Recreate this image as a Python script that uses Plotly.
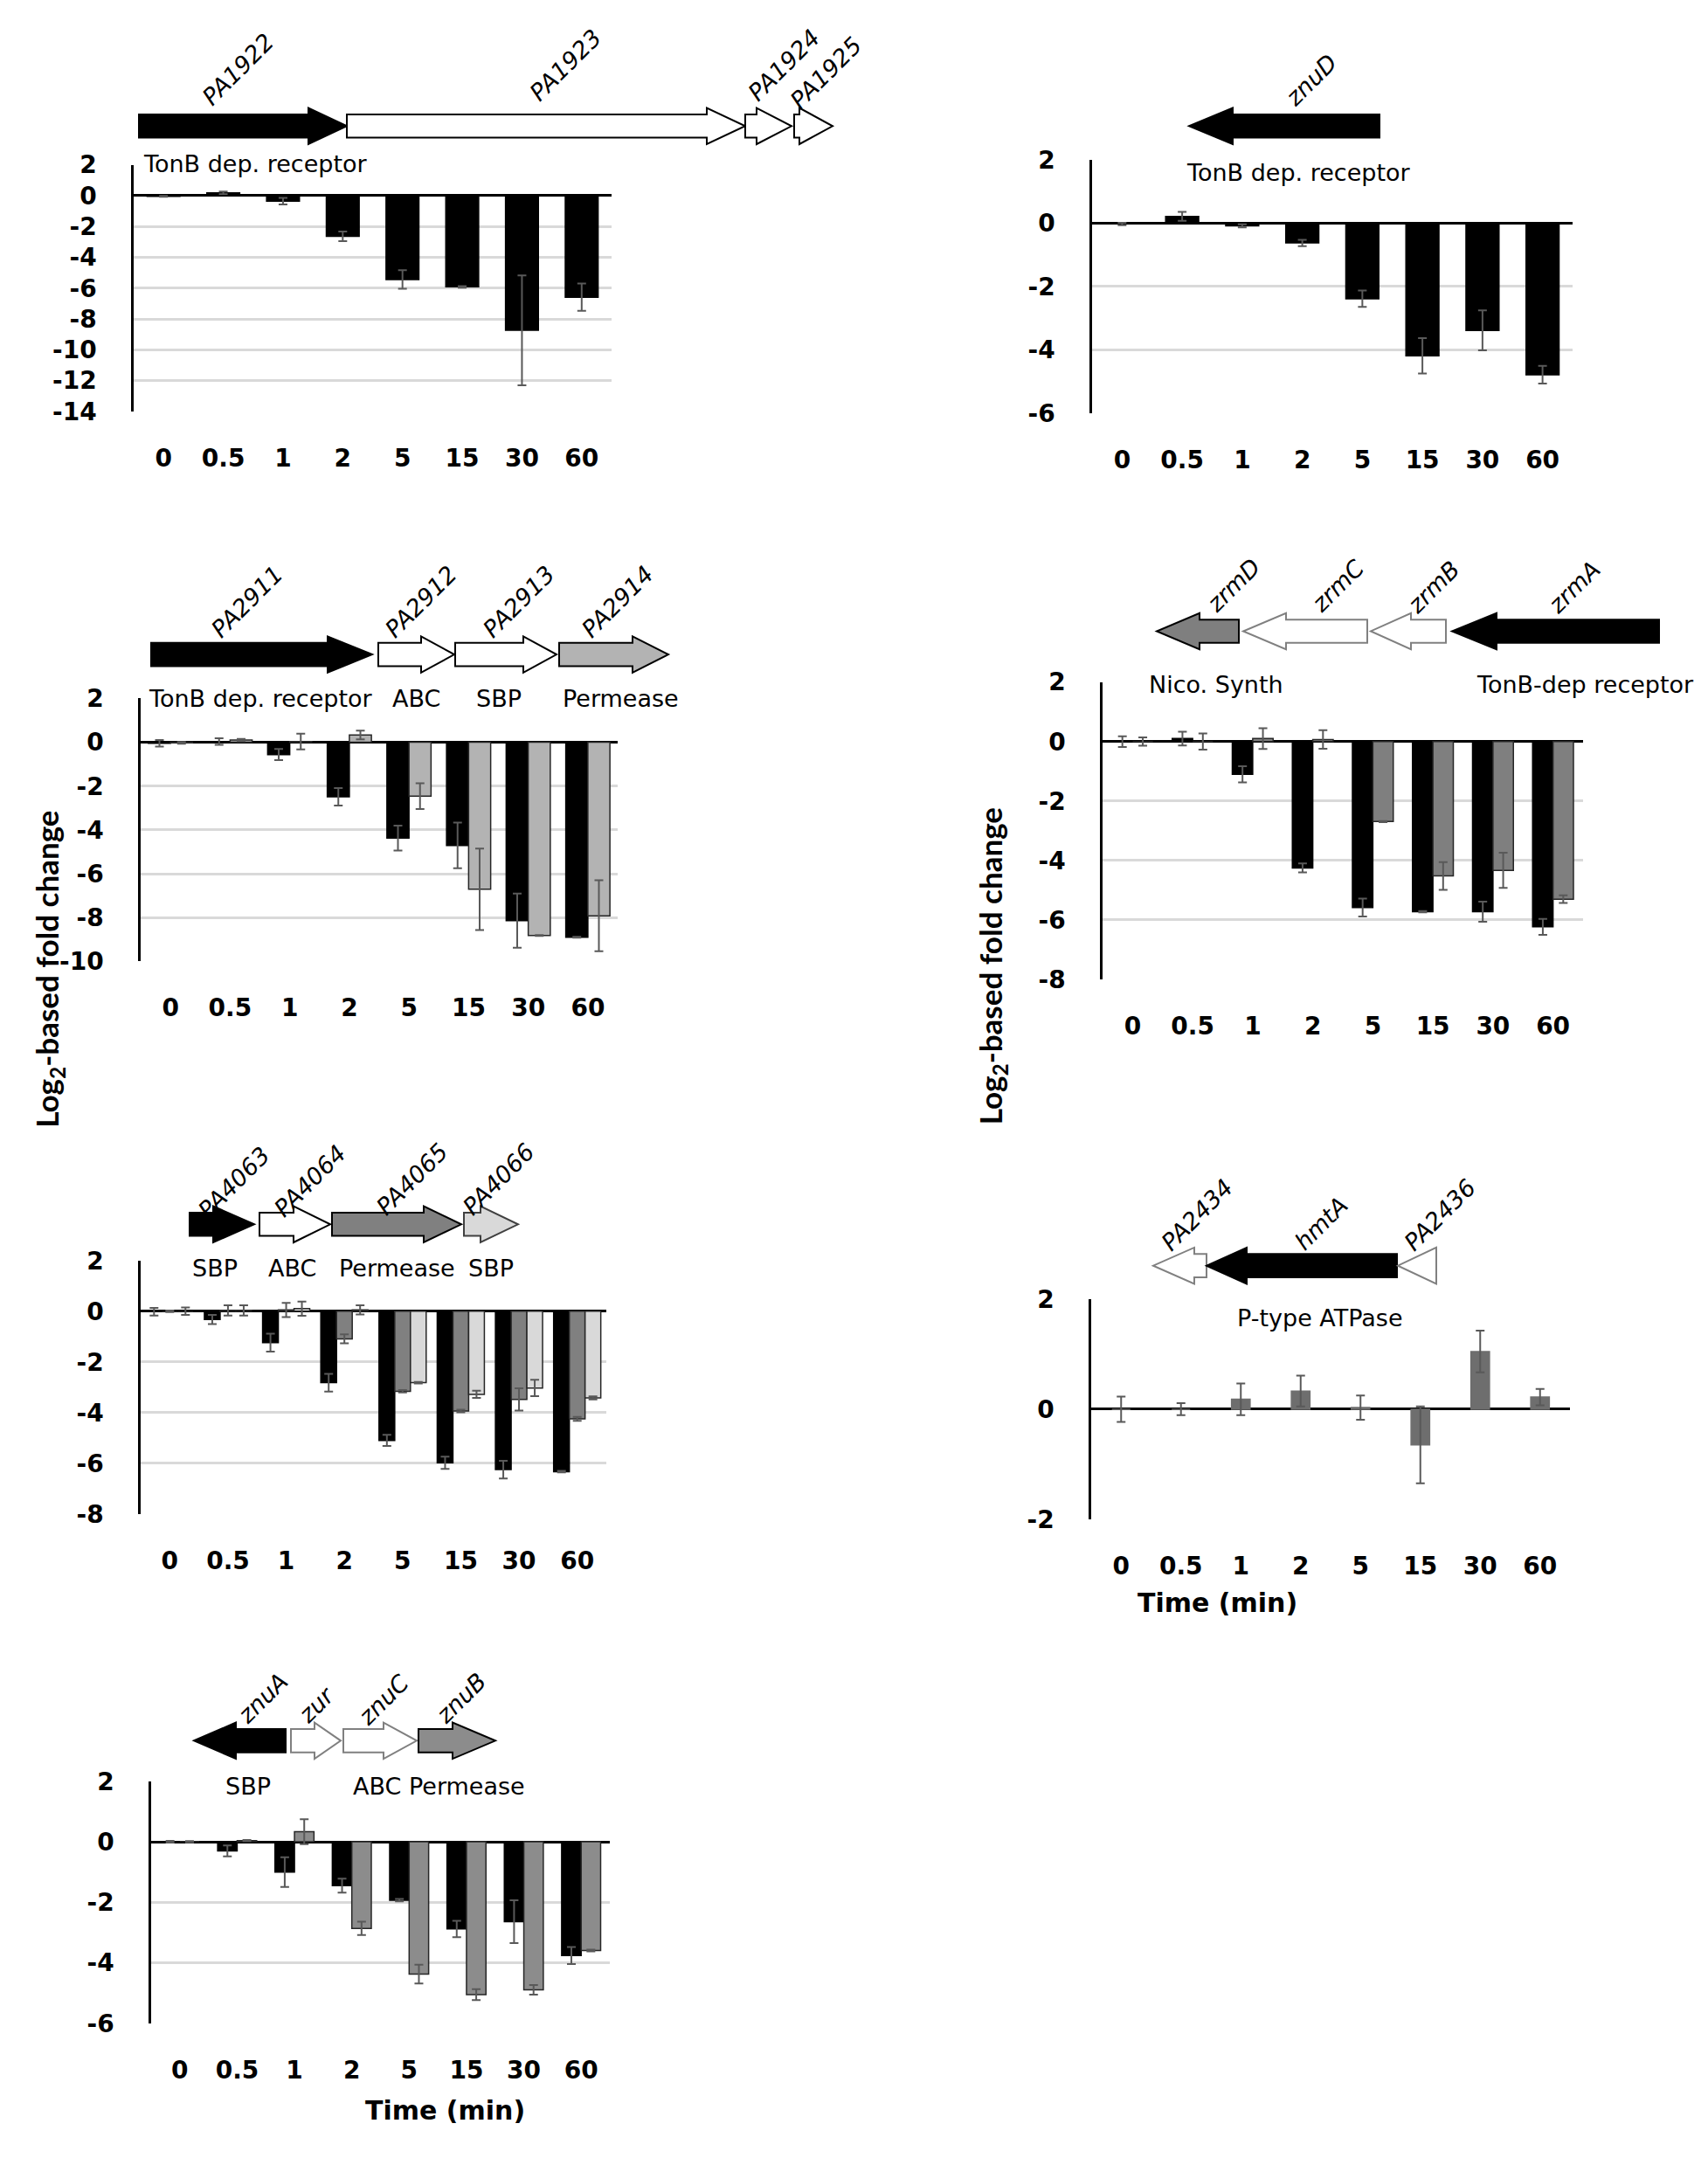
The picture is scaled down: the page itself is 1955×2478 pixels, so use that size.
import plotly.graph_objects as go

W, H = 1955, 2478

TIMES = ["0", "0.5", "1", "2", "5", "15", "30", "60"]

# PA1922 operon (TonB dep. receptor)
PA1922 = [-0.05, 0.18, -0.36, -2.64, -5.44, -5.92, -8.74, -6.59]
PA1922_ERR = [0.03, 0.08, 0.21, 0.31, 0.6, 0.05, 3.57, 0.89]

# znuD
ZNUD = [-0.03, 0.21, -0.09, -0.63, -2.39, -4.19, -3.39, -4.79]
ZNUD_ERR = [0.04, 0.14, 0.05, 0.1, 0.26, 0.56, 0.63, 0.28]

# PA2911-PA2914
PA2911 = [-0.05, 0.03, -0.56, -2.49, -4.37, -4.71, -8.14, -8.9]
PA2911_ERR = [0.15, 0.15, 0.25, 0.4, 0.57, 1.04, 1.24, 0.02]
PA2914 = [-0.03, 0.1, 0.03, 0.33, -2.46, -6.71, -8.82, -7.92]
PA2914_ERR = [0.04, 0.05, 0.36, 0.2, 0.59, 1.86, 0.02, 1.62]

# zrmA-zrmD
ZRMA = [0.0, 0.1, -1.1, -4.25, -5.58, -5.72, -5.72, -6.23]
ZRMA_ERR = [0.18, 0.23, 0.27, 0.15, 0.3, 0.02, 0.34, 0.27]
ZRMD = [0.0, 0.0, 0.1, 0.07, -2.69, -4.52, -4.33, -5.3]
ZRMD_ERR = [0.14, 0.27, 0.35, 0.31, 0.02, 0.47, 0.59, 0.13]

# PA4063-PA4066
PA4063 = [-0.02, -0.33, -1.24, -2.82, -5.1, -5.98, -6.25, -6.33]
PA4063_ERR = [0.15, 0.18, 0.35, 0.35, 0.22, 0.24, 0.35, 0.03]
PA4065 = [0.0, 0.03, 0.05, -1.09, -3.16, -3.94, -3.48, -4.25]
PA4065_ERR = [0.03, 0.2, 0.28, 0.18, 0.05, 0.05, 0.44, 0.08]
PA4066 = [0.0, 0.03, 0.1, 0.05, -2.82, -3.28, -3.03, -3.42]
PA4066_ERR = [0.15, 0.2, 0.28, 0.18, 0.03, 0.14, 0.32, 0.06]

# hmtA
HMTA = [0.0, 0.0, 0.18, 0.33, 0.03, -0.65, 1.05, 0.22]
HMTA_ERR = [0.23, 0.11, 0.29, 0.28, 0.22, 0.7, 0.38, 0.15]

# znuA / znuB
ZNUA = [0.0, -0.3, -1.0, -1.45, -1.93, -2.88, -2.64, -3.76]
ZNUA_ERR = [0.03, 0.18, 0.49, 0.23, 0.04, 0.27, 0.71, 0.28]
ZNUB = [0.0, 0.04, 0.33, -2.86, -4.37, -5.05, -4.89, -3.59]
ZNUB_ERR = [0.02, 0.02, 0.41, 0.22, 0.31, 0.18, 0.16, 0.03]


def px(x):
    return x / W


def py(y):
    return 1 - y / H


FONT = "DejaVu Sans"
TITLE_FONT = "Lato"
BLACK = "#000000"
ERRC = "#595959"

# panel boxes in page pixels: left, right, top (y=ymax), bottom (y=ymin)
panels = [
    dict(box=(153, 700, 175, 461), yr=(-14, 2),
         series=[(PA1922, PA1922_ERR, BLACK, BLACK, 0.55, -0.275)]),
    dict(box=(1250, 1800, 169, 463), yr=(-6, 2),
         series=[(ZNUD, ZNUD_ERR, BLACK, BLACK, 0.55, -0.275)]),
    dict(box=(161, 707, 794, 1099), yr=(-10, 2),
         series=[(PA2911, PA2911_ERR, BLACK, BLACK, 0.37, -0.37),
                 (PA2914, PA2914_ERR, "#b3b3b3", "#262626", 0.37, 0.0)]),
    dict(box=(1262, 1812, 775, 1120), yr=(-8, 2),
         series=[(ZRMA, ZRMA_ERR, BLACK, BLACK, 0.34, -0.34),
                 (ZRMD, ZRMD_ERR, "#7f7f7f", "#262626", 0.34, 0.0)]),
    dict(box=(161, 694, 1446, 1740), yr=(-8, 2),
         series=[(PA4063, PA4063_ERR, BLACK, BLACK, 0.27, -0.405),
                 (PA4065, PA4065_ERR, "#808080", "#262626", 0.27, -0.135),
                 (PA4066, PA4066_ERR, "#d9d9d9", "#262626", 0.27, 0.135)]),
    dict(box=(1249, 1797, 1491, 1746), yr=(-2, 2),
         series=[(HMTA, HMTA_ERR, "#6e6e6e", "#6e6e6e", 0.31, -0.155)]),
    dict(box=(173, 698, 2050, 2331), yr=(-6, 2),
         series=[(ZNUA, ZNUA_ERR, BLACK, BLACK, 0.34, -0.34),
                 (ZNUB, ZNUB_ERR, "#8c8c8c", "#262626", 0.34, 0.0)]),
]

fig = go.Figure()

for i, p in enumerate(panels, start=1):
    sfx = "" if i == 1 else str(i)
    for vals, err, fill, line, w, off in p["series"]:
        fig.add_trace(go.Bar(
            x=TIMES, y=vals,
            xaxis="x" + sfx, yaxis="y" + sfx,
            width=w, offset=off,
            marker=dict(color=fill, line=dict(color=line, width=1.5)),
            error_y=dict(type="data", array=err, visible=True,
                         color=ERRC, thickness=2, width=5),
        ))
    l, r, t, b = p["box"]
    lo, hi = p["yr"]
    ticks = list(range(lo, hi + 1, 2))
    fig.layout["xaxis" + sfx] = dict(
        domain=[px(l), px(r)], anchor="y" + sfx, type="category",
        showgrid=False, showline=False, zeroline=False, ticks="",
        ticklabelstandoff=34,
        tickfont=dict(family=FONT, size=28, color="black", weight="bold"),
    )
    fig.layout["yaxis" + sfx] = dict(
        domain=[py(b), py(t)], anchor="x" + sfx, range=[lo, hi],
        tickvals=ticks, ticktext=[str(v) for v in ticks],
        showgrid=True, gridcolor="#d9d9d9", gridwidth=2.5,
        zeroline=True, zerolinecolor="black", zerolinewidth=3,
        showline=True, linecolor="black", linewidth=2.5, ticks="",
        ticklabelstandoff=34,
        tickfont=dict(family=FONT, size=28, color="black", weight="bold"),
    )

# gene arrows: (name, tail, tip, head length, fill, outline, label x, label y), arrow row y
genes = [
    (130, [("PA1922", 159, 397, 44, BLACK, BLACK, 272, 64),
           ("PA1923", 397, 853, 44, "white", BLACK, 647, 59),
           ("PA1924", 853, 906, 40, "white", BLACK, 897, 59),
           ("PA1925", 909, 953, 38, "white", BLACK, 945, 68)]),
    (130, [("znuD", 1579, 1361, 50, BLACK, BLACK, 1501, 77)]),
    (743, [("PA2911", 173, 426, 51, BLACK, BLACK, 283, 682),
           ("PA2912", 433, 520, 38, "white", BLACK, 482, 682),
           ("PA2913", 521, 637, 38, "white", BLACK, 594, 682),
           ("PA2914", 640, 765, 41, "#b3b3b3", BLACK, 707, 682)]),
    (716, [("zrmD", 1418, 1324, 49, "#7f7f7f", BLACK, 1411, 663),
           ("zrmC", 1565, 1423, 49, "white", "#808080", 1531, 663),
           ("zrmB", 1655, 1569, 46, "white", "#808080", 1640, 665),
           ("zrmA", 1899, 1662, 51, BLACK, BLACK, 1801, 665)]),
    (1404, [("PA4063", 217, 291, 47, BLACK, BLACK, 268, 1356),
            ("PA4064", 297, 378, 42, "white", BLACK, 355, 1354),
            ("PA4065", 380, 528, 43, "#808080", BLACK, 472, 1352),
            ("PA4066", 531, 593, 43, "#d9d9d9", "#404040", 571, 1352)]),
    (1452, [("PA2434", 1381, 1320, 47, "white", "#808080", 1370, 1393),
            ("hmtA", 1599, 1381, 46, BLACK, BLACK, 1512, 1403),
            ("PA2436", 1644, 1600, 44, "white", "#808080", 1648, 1393)]),
    (2003, [("znuA", 327, 222, 48, BLACK, BLACK, 301, 1954),
            ("zur", 333, 390, 30, "white", "#808080", 362, 1962),
            ("znuC", 393, 477, 38, "white", "#808080", 439, 1956),
            ("znuB", 479, 567, 49, "#8c8c8c", BLACK, 528, 1954)]),
]


def arrow_path(tail, tip, head, yc, sh=13.5, hh=21):
    d = 1 if tip > tail else -1
    base = tip - d * head
    pts = [(tail, yc - sh), (base, yc - sh), (base, yc - hh), (tip, yc),
           (base, yc + hh), (base, yc + sh), (tail, yc + sh)]
    return "M " + " L ".join(f"{px(x):.5f},{py(y):.5f}" for x, y in pts) + " Z"


shapes = []
annotations = []
for yc, row in genes:
    for name, tail, tip, head, fill, outline, lx, ly in row:
        shapes.append(dict(type="path", xref="paper", yref="paper",
                           path=arrow_path(tail, tip, head, yc),
                           fillcolor=fill, line=dict(color=outline, width=2)))
        annotations.append(dict(text=name, x=px(lx), y=py(ly), xref="paper", yref="paper",
                                showarrow=False, textangle=-45,
                                xanchor="center", yanchor="middle",
                                font=dict(family=FONT, size=27, color="black", style="italic")))

# functional labels: text, x, y, anchor
func_labels = [
    ("TonB dep. receptor", 162, 174, "left"),
    ("TonB dep. receptor", 1486, 184, "center"),
    ("TonB dep. receptor", 168, 794, "left"),
    ("ABC", 476, 794, "center"),
    ("SBP", 571, 794, "center"),
    ("Permease", 710, 794, "center"),
    ("Nico. Synth", 1392, 778, "center"),
    ("TonB-dep receptor", 1814, 778, "center"),
    ("SBP", 246, 1455, "center"),
    ("ABC", 334, 1455, "center"),
    ("Permease", 454, 1455, "center"),
    ("SBP", 562, 1455, "center"),
    ("P-type ATPase", 1511, 1513, "center"),
    ("SBP", 284, 2056, "center"),
    ("ABC Permease", 502, 2056, "center"),
]
for text, x, y, anc in func_labels:
    annotations.append(dict(text=text, x=px(x), y=py(y), xref="paper", yref="paper",
                            showarrow=False, xanchor=anc, yanchor="middle",
                            font=dict(family=FONT, size=27, color="black")))

for x, y in [(30, 1108), (1135, 1105)]:
    annotations.append(dict(text="Log<sub>2</sub>-based fold change", x=px(x), y=py(y),
                            xref="paper", yref="paper", showarrow=False, textangle=-90,
                            font=dict(family=TITLE_FONT, size=35, color="black", weight="bold")))

for x, y in [(1487, 1863), (416, 2452)]:
    annotations.append(dict(text="Time (min)", x=px(x), y=py(y),
                            xref="paper", yref="paper", showarrow=False,
                            font=dict(family=FONT, size=30, color="black", weight="bold")))

fig.update_layout(
    width=W, height=H,
    margin=dict(l=0, r=0, t=0, b=0),
    paper_bgcolor="white", plot_bgcolor="white",
    showlegend=False, barmode="group",
    shapes=shapes, annotations=annotations,
)

fig.write_html("out.html", config={"displayModeBar": False},
               post_script="document.body.style.margin='0';")
